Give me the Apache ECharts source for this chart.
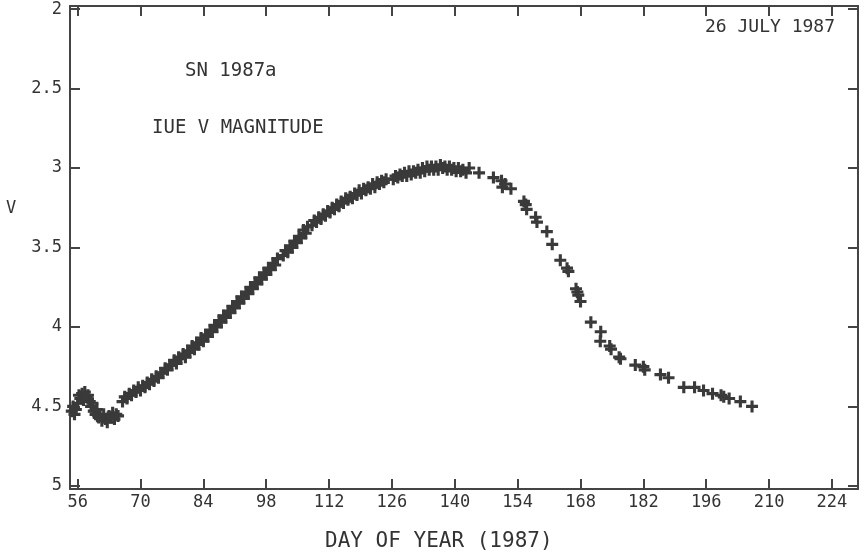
<!DOCTYPE html>
<html>
<head>
<meta charset="utf-8">
<script src="https://cdn.jsdelivr.net/npm/echarts@6/dist/echarts.min.js"></script>
<style>html,body{margin:0;padding:0;background:#fff;}#c{width:864px;height:554px;}</style>
</head>
<body>
<div id="c"></div>
<script>
// Tick values
var xTicks = [56, 70, 84, 98, 112, 126, 140, 154, 168, 182, 196, 210, 224];
var yTicks = [2, 2.5, 3, 3.5, 4, 4.5, 5];

// Early "bump" (days ~55-65)
var bumpDays = [54.7,55.0,55.3,55.6,56.0,56.3,56.6,57.0,57.3,57.6,58.0,58.3,58.7,59.0,59.3,59.6,60.0,60.3,60.7,61.0,61.4,61.8,62.2,62.6,63.0,63.4,63.8,64.2,64.6,65.0];
var bumpV    = [4.53,4.50,4.55,4.52,4.48,4.43,4.45,4.42,4.46,4.41,4.44,4.43,4.47,4.50,4.48,4.53,4.55,4.52,4.57,4.56,4.59,4.55,4.58,4.60,4.56,4.57,4.54,4.58,4.55,4.56];

// Rise to maximum (days 66-145)
var riseDays = [66.0,66.5,67.0,67.5,68.0,68.5,69.0,69.5,70.0,70.5,71.0,71.5,72.0,72.5,73.0,73.5,74.0,74.5,75.0,75.5,76.0,76.5,77.0,77.5,78.0,78.5,79.0,79.5,80.0,80.5,81.0,81.5,82.0,82.5,83.0,83.5,84.0,84.5,85.0,85.5,86.0,86.5,87.0,87.5,88.0,88.5,89.0,89.5,90.0,90.5,91.0,91.5,92.0,92.5,93.0,93.5,94.0,94.5,95.0,95.5,96.0,96.5,97.0,97.5,98.0,98.5,99.0,99.5,100.0,100.5,
  101.8,102.3,102.8,103.3,103.8,104.3,104.8,105.3,105.8,106.3,106.8,107.2,
  108.2,108.7,109.2,109.7,110.2,110.7,111.2,111.7,112.2,112.7,113.2,113.7,114.2,114.7,115.2,115.7,116.2,116.7,117.2,117.7,118.2,118.7,119.2,119.7,120.2,120.7,121.2,121.7,122.2,122.7,123.2,123.7,124.2,124.7,
  126.3,126.8,127.3,127.8,128.3,128.8,129.3,129.8,130.3,130.8,131.3,131.8,132.3,132.8,133.3,133.8,134.3,134.8,135.3,135.8,136.3,136.8,137.3,137.8,138.3,138.8,139.3,139.8,140.3,140.8,141.3,141.8,142.5,143.2,145.4];
var riseV = [4.47,4.44,4.45,4.42,4.43,4.40,4.41,4.38,4.40,4.37,4.38,4.35,4.36,4.33,4.34,4.31,4.32,4.29,4.29,4.26,4.27,4.24,4.24,4.21,4.23,4.19,4.20,4.17,4.19,4.15,4.16,4.12,4.14,4.10,4.11,4.07,4.09,4.05,4.06,4.02,4.03,3.99,4.00,3.96,3.97,3.93,3.94,3.90,3.91,3.87,3.88,3.84,3.85,3.81,3.82,3.78,3.79,3.75,3.76,3.72,3.73,3.69,3.70,3.66,3.67,3.63,3.64,3.60,3.61,3.57,
  3.55,3.52,3.53,3.49,3.50,3.46,3.47,3.43,3.44,3.39,3.41,3.37,
  3.36,3.33,3.34,3.31,3.32,3.29,3.30,3.27,3.28,3.25,3.26,3.23,3.24,3.21,3.22,3.19,3.20,3.18,3.19,3.16,3.17,3.14,3.16,3.13,3.14,3.12,3.13,3.10,3.12,3.09,3.10,3.08,3.09,3.07,
  3.07,3.05,3.06,3.04,3.05,3.03,3.05,3.02,3.04,3.02,3.03,3.01,3.03,3.00,3.02,2.99,3.01,2.99,3.01,2.99,3.01,2.98,3.00,2.99,3.01,2.99,3.01,3.00,3.02,3.00,3.02,3.01,3.03,3.00,3.03];

// Decline (days 148-207)
var declineDays = [148.6,150.4,150.6,151.2,152.5,155.4,155.8,156.0,158.0,158.3,160.5,161.7,163.5,165.0,165.3,167.0,167.3,167.5,168.0,170.3,172.5,172.4,174.5,174.8,176.6,176.9,180.2,182.0,182.3,185.8,187.6,191.0,193.4,195.4,197.4,199.3,199.9,201.1,203.6,206.2];
var declineV    = [3.06,3.08,3.12,3.10,3.13,3.21,3.23,3.26,3.31,3.34,3.40,3.48,3.58,3.63,3.65,3.76,3.78,3.80,3.84,3.97,4.03,4.09,4.12,4.14,4.19,4.20,4.24,4.25,4.27,4.30,4.32,4.38,4.38,4.40,4.42,4.43,4.44,4.45,4.47,4.50];

var allDays = bumpDays.concat(riseDays, declineDays);
var allV = bumpV.concat(riseV, declineV);
var points = allDays.map(function (d, i) { return [d, allV[i]]; });

var ink = '#333333';
var fontFam = '"DejaVu Sans Mono", "Liberation Mono", monospace';
var plus = 'path://M3.7,0L6.3,0L6.3,3.7L10,3.7L10,6.3L6.3,6.3L6.3,10L3.7,10L3.7,6.3L0,6.3L0,3.7L3.7,3.7Z';

var axisLineStyle = { show: true, lineStyle: { color: '#444444', width: 2 } };
var tickStyle = { color: '#444444', width: 2 };

var chart = echarts.init(document.getElementById('c'), null, { renderer: 'canvas' });
chart.setOption({
  animation: false,
  backgroundColor: '#ffffff',
  grid: { left: 70, right: 6, top: 6, bottom: 65, containLabel: false },
  xAxis: [{
    type: 'value', position: 'bottom', min: 54.3, max: 229.8,
    axisLine: axisLineStyle,
    splitLine: { show: false },
    axisTick: { show: true, inside: true, length: 10, customValues: xTicks, lineStyle: tickStyle },
    axisLabel: { show: true, customValues: xTicks, margin: 5, color: ink, fontFamily: fontFam, fontSize: 17 }
  }, {
    type: 'value', position: 'top', min: 54.3, max: 229.8,
    axisLine: axisLineStyle,
    splitLine: { show: false },
    axisTick: { show: true, inside: true, length: 10, customValues: xTicks, lineStyle: tickStyle },
    axisLabel: { show: false }
  }],
  yAxis: [{
    type: 'value', position: 'left', inverse: true, min: 1.98, max: 5.02,
    axisLine: axisLineStyle,
    splitLine: { show: false },
    axisTick: { show: true, inside: true, length: 10, customValues: yTicks, lineStyle: tickStyle },
    axisLabel: { show: true, customValues: yTicks, margin: 8, color: ink, fontFamily: fontFam, fontSize: 17,
      formatter: function (v) { return String(v); } }
  }, {
    type: 'value', position: 'right', inverse: true, min: 1.98, max: 5.02,
    axisLine: axisLineStyle,
    splitLine: { show: false },
    axisTick: { show: true, inside: true, length: 10, customValues: yTicks, lineStyle: tickStyle },
    axisLabel: { show: false }
  }],
  graphic: [
    { type: 'text', left: 185, top: 62, style: { text: 'SN 1987a', fill: ink, font: '19px ' + fontFam } },
    { type: 'text', left: 152, top: 119, style: { text: 'IUE V MAGNITUDE', fill: ink, font: '19px ' + fontFam } },
    { type: 'text', left: 705, top: 18, style: { text: '26 JULY 1987', fill: ink, font: '18px ' + fontFam } },
    { type: 'text', left: 6, top: 200, style: { text: 'V', fill: ink, font: '17px ' + fontFam } },
    { type: 'text', left: 325, top: 531, style: { text: 'DAY OF YEAR (1987)', fill: ink, font: '21px ' + fontFam } }
  ],
  series: [{
    type: 'scatter',
    xAxisIndex: 0, yAxisIndex: 0,
    data: points,
    symbol: plus,
    symbolSize: 12,
    itemStyle: { color: '#3a3a3a', opacity: 1 },
    silent: true
  }]
});
</script>
</body>
</html>
